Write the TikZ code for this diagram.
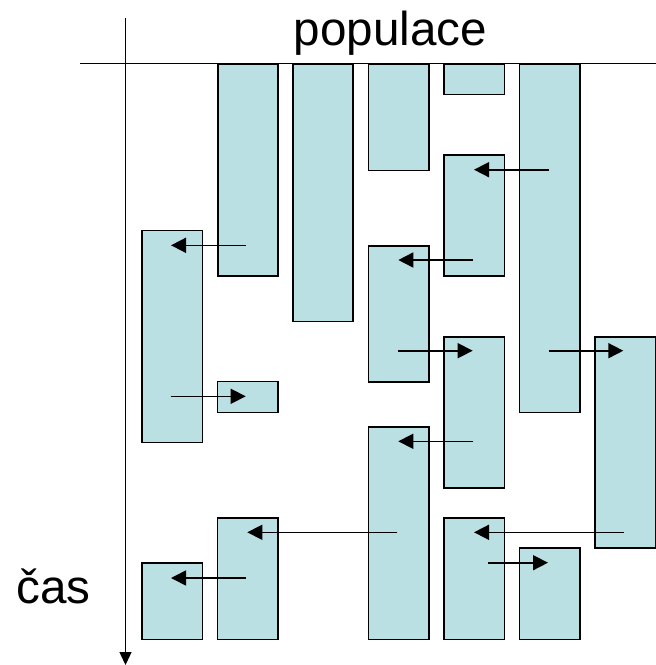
\documentclass[tikz,border=0pt]{standalone}
\usepackage{fontspec}
\setmainfont{Liberation Sans}
\usetikzlibrary{arrows.meta}
\definecolor{boxfill}{RGB}{187,224,227}
\begin{document}
\begin{tikzpicture}[x=1pt,y=-1pt,
  box/.style={draw=black,fill=boxfill,line width=1.7pt,inner sep=0pt,anchor=north west},
  arr/.style={line width=1.6pt,-{Triangle[length=15pt,width=15pt]}},
  axisline/.style={line width=1.4pt},
  lbl/.style={font=\fontsize{47.6}{57}\selectfont,inner sep=0pt}]
\useasboundingbox (0,0) rectangle (656,665);
% axes
\coordinate (hl) at (80,63.3);
\coordinate (hr) at (656,63.3);
\coordinate (vt) at (125.5,18);
\coordinate (vb) at (125.5,665);
\draw[axisline] (hl) -- (hr);
\draw[axisline,-{Triangle[length=13pt,width=12pt]}] (vt) -- (vb);
% labels
\node[lbl,anchor=base] (pop) at (390.5,45) {populace};
\node[lbl,anchor=base] (cas) at (53.5,603) {čas};
% boxes: \boxat{name}{x1}{y1}{x2}{y2}
\newcommand{\boxat}[5]{\node[box,minimum width={#4-#2},minimum height={#5-#3}] (#1) at (#2,#3) {};}
\boxat{r1}{217}{63}{277}{275}
\boxat{r2}{292}{63}{352}{320.5}
\boxat{r3}{367.5}{63}{428}{169.5}
\boxat{r4}{443}{63}{503.5}{93.5}
\boxat{r5}{518.5}{63}{579}{411.5}
\boxat{r6}{443}{154}{503.5}{275}
\boxat{r7}{141}{229.5}{201.5}{441.5}
\boxat{r8}{367.5}{245}{428}{381}
\boxat{r9}{216.5}{380.5}{277}{411.5}
\boxat{r10}{443}{336}{503.5}{487}
\boxat{r11}{594}{336}{655}{547}
\boxat{r12}{367.5}{426}{428}{638.5}
\boxat{r13}{216.5}{517}{277}{638.5}
\boxat{r14}{443}{517}{503.5}{638.5}
\boxat{r15}{518.5}{547}{579}{638.5}
\boxat{r16}{141}{562}{201.5}{638.5}
% arrow end points
\coordinate (a1s) at (246,245.3);   \coordinate (a1e) at (171,245.3);
\coordinate (a2s) at (548.7,169.7); \coordinate (a2e) at (474,169.7);
\coordinate (a3s) at (473.3,260);   \coordinate (a3e) at (398.3,260);
\coordinate (a4s) at (170.7,396.3); \coordinate (a4e) at (245.7,396.3);
\coordinate (a5s) at (397.7,350.7); \coordinate (a5e) at (472.7,350.7);
\coordinate (a6s) at (548.7,350.7); \coordinate (a6e) at (623.3,350.7);
\coordinate (a7s) at (473.3,441.3); \coordinate (a7e) at (398.3,441.3);
\coordinate (a8s) at (397.3,532.3); \coordinate (a8e) at (247.3,532.3);
\coordinate (a9s) at (624,532.3);   \coordinate (a9e) at (474,532.3);
\coordinate (a10s) at (488.3,562.7); \coordinate (a10e) at (548,562.7);
\coordinate (a11s) at (246,578);    \coordinate (a11e) at (171,578);
\foreach \i in {1,...,11} {\draw[arr] (a\i s) -- (a\i e);}
\end{tikzpicture}
\end{document}
